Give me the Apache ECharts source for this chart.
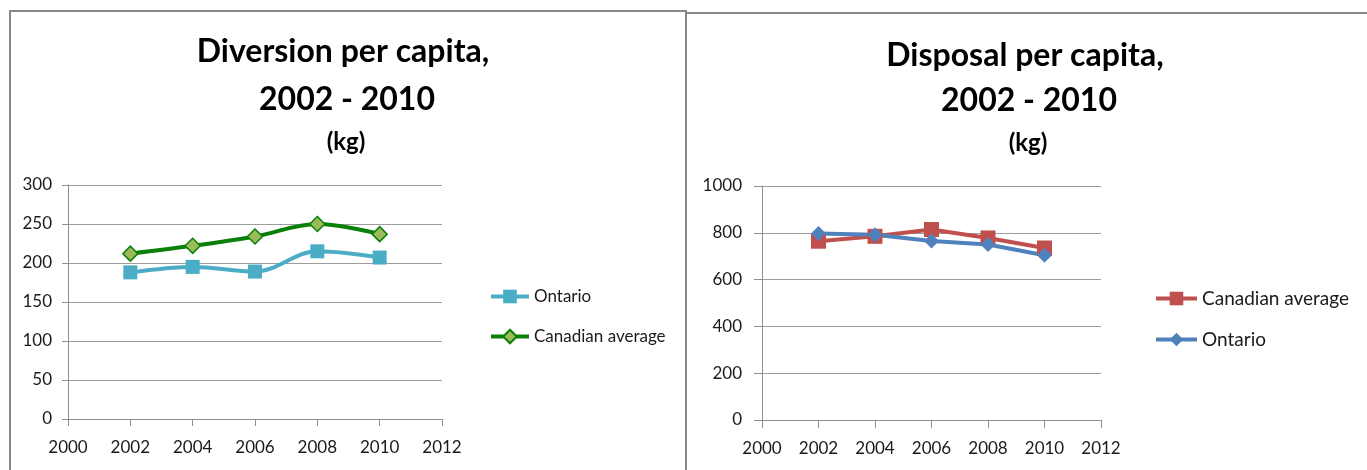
<!DOCTYPE html>
<html>
<head>
<meta charset="utf-8">
<script src="https://cdn.jsdelivr.net/npm/echarts@6/dist/echarts.min.js"></script>
<style>
  html, body { margin: 0; padding: 0; background: #fff; }
  #chart { width: 1367px; height: 470px; }
</style>
</head>
<body>
<div id="chart"></div>
<script>
// Survey years
const years = [2002, 2004, 2006, 2008, 2010];

// Diversion per capita (kg)
const diversionOntario = [188, 195, 189, 215, 207];
const diversionCanada  = [212, 222, 234, 250, 237];

// Disposal per capita (kg)
const disposalCanada  = [764, 785, 814, 778, 735];
const disposalOntario = [797, 792, 765, 750, 704];

// Axis ranges
const yearAxis      = { min: 2000, max: 2012, step: 2 };
const diversionAxis = { min: 0, max: 300, step: 50 };
const disposalAxis  = { min: 0, max: 1000, step: 200 };

const FONT = 'Lato';
const pairs = (vals) => years.map((y, i) => [y, vals[i]]);

function valueAxis(range, gridIndex, fontSize, labelMargin, tickLen, isX) {
  return {
    type: 'value',
    gridIndex: gridIndex,
    min: range.min, max: range.max, interval: range.step,
    axisLine: { show: true, lineStyle: { color: '#8e8e8e', width: 1 } },
    axisTick: { show: true, length: tickLen, lineStyle: { color: '#8e8e8e' } },
    splitLine: { show: !isX, lineStyle: { color: '#9c9c9c', width: 1 } },
    axisLabel: {
      color: '#1a1a1a', fontFamily: FONT, fontSize: fontSize, margin: labelMargin,
      formatter: (v) => String(v)
    }
  };
}

function titleLine(text, cx, top, size) {
  return {
    text: text, left: cx, top: top, textAlign: 'center', padding: 0,
    textStyle: { fontFamily: FONT, fontWeight: 'bold', fontSize: size, color: '#000', lineHeight: size }
  };
}

const chart = echarts.init(document.getElementById('chart'), null, { renderer: 'canvas' });

chart.setOption({
  animation: false,
  backgroundColor: '#fff',
  title: [
    titleLine('Diversion per capita,', 343, 36, 32),
    titleLine('2002 - 2010', 347, 84, 32),
    titleLine('(kg)', 346, 130, 24),
    titleLine('Disposal per capita,', 1025, 40, 32),
    titleLine('2002 - 2010', 1029, 85, 32),
    titleLine('(kg)', 1028, 131, 24)
  ],
  graphic: [
    { type: 'polyline', shape: { points: [[10, 470], [10, 11], [686, 11], [686, 470]] },
      style: { stroke: '#888', lineWidth: 2, fill: null }, silent: true },
    { type: 'polyline', shape: { points: [[686, 13], [1367, 13]] },
      style: { stroke: '#888', lineWidth: 2, fill: null }, silent: true }
  ],
  legend: [
    {
      orient: 'vertical', left: 489, top: 288, padding: 0,
      itemWidth: 38, itemHeight: 17, itemGap: 23,
      lineStyle: { width: 4 },
      textStyle: { fontFamily: FONT, fontSize: 17, color: '#1a1a1a' },
      data: ['Ontario', 'Canadian average']
    },
    {
      orient: 'vertical', left: 1154, top: 289, padding: 0,
      itemWidth: 41, itemHeight: 17, itemGap: 22,
      lineStyle: { width: 4 },
      textStyle: { fontFamily: FONT, fontSize: 19, color: '#1a1a1a' },
      data: [{ name: 'Canadian average ' }, { name: 'Ontario ' }]
    }
  ],
  grid: [
    { left: 68, right: 1367 - 442, top: 185, bottom: 470 - 419, containLabel: false },
    { left: 762, right: 1367 - 1101, top: 186, bottom: 470 - 420, containLabel: false }
  ],
  xAxis: [
    valueAxis(yearAxis, 0, 17, 20, 7, true),
    valueAxis(yearAxis, 1, 17, 20, 8, true)
  ],
  yAxis: [
    valueAxis(diversionAxis, 0, 17, 16, 6, false),
    valueAxis(disposalAxis, 1, 17, 20, 8, false)
  ],
  series: [
    {
      name: 'Ontario', type: 'line', xAxisIndex: 0, yAxisIndex: 0,
      data: pairs(diversionOntario), smooth: 0.35,
      symbol: 'rect', symbolSize: 14,
      lineStyle: { color: '#4BACC6', width: 4 },
      itemStyle: { color: '#4BACC6', borderWidth: 0 }
    },
    {
      name: 'Canadian average', type: 'line', xAxisIndex: 0, yAxisIndex: 0,
      data: pairs(diversionCanada), smooth: 0.35,
      symbol: 'diamond', symbolSize: 15,
      lineStyle: { color: '#0A800A', width: 4 },
      itemStyle: { color: '#9BBB59', borderColor: '#0A800A', borderWidth: 1.5 }
    },
    {
      name: 'Canadian average ', type: 'line', xAxisIndex: 1, yAxisIndex: 1,
      data: pairs(disposalCanada),
      symbol: 'rect', symbolSize: 15,
      lineStyle: { color: '#C0504D', width: 4 },
      itemStyle: { color: '#C0504D', borderWidth: 0 }
    },
    {
      name: 'Ontario ', type: 'line', xAxisIndex: 1, yAxisIndex: 1,
      data: pairs(disposalOntario),
      symbol: 'diamond', symbolSize: 15,
      lineStyle: { color: '#4F81BD', width: 4 },
      itemStyle: { color: '#4F81BD', borderWidth: 0 }
    }
  ]
});
</script>
</body>
</html>
